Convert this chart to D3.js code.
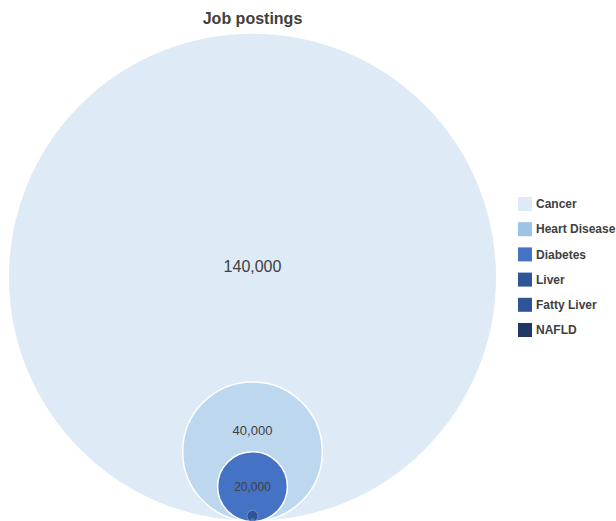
<!DOCTYPE html>
<html>
<head>
<meta charset="utf-8">
<script src="https://cdn.jsdelivr.net/npm/d3@7"></script>
<style>
  html, body { margin: 0; padding: 0; background: #fff; }
  svg { display: block; }
</style>
</head>
<body>
<svg id="chart" width="616" height="521"></svg>
<script>
// ---- data ----
const categories = ["Cancer", "Heart Disease", "Diabetes", "Liver", "Fatty Liver", "NAFLD"];
const jobPostings = [140000, 40000, 20000, 3200, 800, 300];
const valueLabels = ["140,000", "40,000", "20,000", "", "", ""];
const chartTitle = "Job postings";

// ---- styles ----
const legendColors = ["#DEEBF7", "#9DC3E6", "#4472C4", "#2F5597", "#2F5597", "#1F3864"];
const bubbleColors = ["#DEEAF6", "#BDD7EE", "#4472C4", "#2F5597", "#2F5597", "#1F3864"];
const labelSizes = [16, 13, 12, 0, 0, 0];
const labelShift = [-0.045, -0.31, 0, 0, 0, 0]; // fraction of radius

const svg = d3.select("#chart");

const cx = 252.5;
const baseline = 521.5;
const rScale = d3.scaleLinear().domain([0, 140000]).range([0, 244.3]);

svg.append("text")
  .attr("x", cx).attr("y", 24)
  .attr("text-anchor", "middle")
  .attr("font-family", "Liberation Sans, Arial, sans-serif")
  .attr("font-weight", "bold")
  .attr("font-size", 16)
  .attr("fill", "#404040")
  .text(chartTitle);

const data = categories.map((c, i) => ({ c, v: jobPostings[i], i }));

const g = svg.append("g");
g.selectAll("circle").data(data).join("circle")
  .attr("cx", cx)
  .attr("cy", d => baseline - rScale(d.v))
  .attr("r", d => rScale(d.v))
  .attr("fill", d => bubbleColors[d.i])
  .attr("stroke", d => d.i >= 3 ? "#7F9BD0" : "#ffffff")
  .attr("stroke-width", d => d.i >= 3 ? 0.8 : 1.5);

g.selectAll("text.val").data(data.filter(d => valueLabels[d.i])).join("text")
  .attr("class", "val")
  .attr("x", cx)
  .attr("y", d => baseline - rScale(d.v) + labelShift[d.i] * rScale(d.v))
  .attr("dy", "0.35em")
  .attr("text-anchor", "middle")
  .attr("font-family", "Liberation Sans, Arial, sans-serif")
  .attr("font-size", d => labelSizes[d.i])
  .attr("fill", "#404040")
  .text(d => valueLabels[d.i]);

// legend
const ly = d3.scalePoint().domain(categories).range([204, 330]);
const leg = svg.append("g");
const items = leg.selectAll("g").data(categories).join("g")
  .attr("transform", d => `translate(518, ${ly(d)})`);
items.append("rect")
  .attr("x", 0).attr("y", -7).attr("width", 14).attr("height", 14)
  .attr("fill", (d, i) => legendColors[i]);
items.append("text")
  .attr("x", 18).attr("y", 0).attr("dy", "0.35em")
  .attr("font-family", "Liberation Sans, Arial, sans-serif")
  .attr("font-weight", "bold")
  .attr("font-size", 12)
  .attr("fill", "#404040")
  .text(d => d);
</script>
</body>
</html>
